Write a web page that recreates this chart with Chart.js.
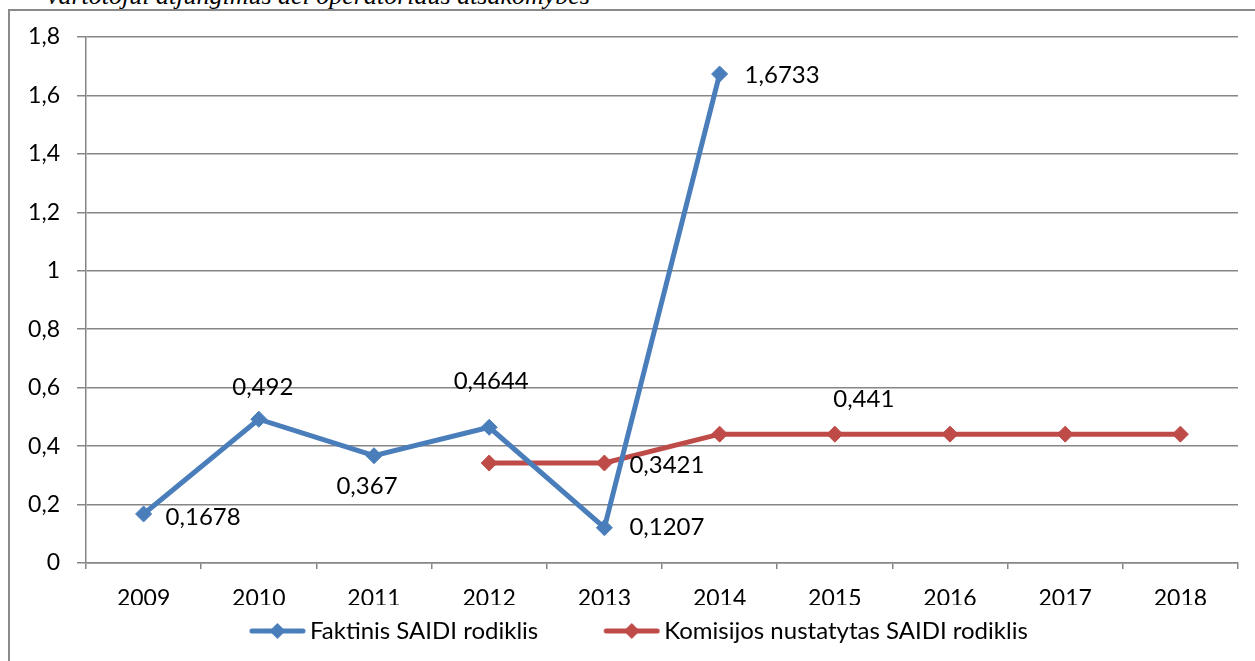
<!DOCTYPE html>
<html>
<head>
<meta charset="utf-8">
<script src="https://cdn.jsdelivr.net/npm/chart.js@4/dist/chart.umd.min.js"></script>
<style>
  html, body { margin: 0; padding: 0; background: #fff; overflow: hidden; }
  #wrap { position: relative; width: 1255px; height: 661px; overflow: hidden; }
  #caption {
    position: absolute; right: 665px; top: -19px; white-space: nowrap;
    font-family: "Liberation Serif", serif; font-style: italic; font-size: 26px; color: #000;
  }
  #frame {
    position: absolute; left: 8px; top: 9px; width: 1300px; height: 700px;
    border-left: 2px solid #8a8a8a; border-top: 2px solid #8a8a8a;
  }
  canvas { position: absolute; left: 0; top: 0; }
</style>
</head>
<body>
<div id="wrap">
  <div id="caption">vartotojui atjungimus dėl operatoriaus atsakomybės</div>
  <div id="frame"></div>
  <canvas id="myChart" width="1255" height="661"></canvas>
</div>
<script>
const years = ['2009', '2010', '2011', '2012', '2013', '2014', '2015', '2016', '2017', '2018'];
const faktinis = [0.1678, 0.492, 0.367, 0.4644, 0.1207, 1.6733, null, null, null, null];
const komisijos = [null, null, null, 0.3421, 0.3421, 0.441, 0.441, 0.441, 0.441, 0.441];
const yTickLabels = ['0', '0,2', '0,4', '0,6', '0,8', '1', '1,2', '1,4', '1,6', '1,8'];
const seriesNames = ['Faktinis SAIDI rodiklis', 'Komisijos nustatytas SAIDI rodiklis'];

const BLUE = '#4A7EBB';
const RED = '#BE4B48';
const FONT = 'Lato, "Open Sans", sans-serif';

// which points carry a value label, and where the text sits relative to the point
const labelSpots = [
    { ds: 0, i: 0, dx: 22, dy: 3, align: 'left' },
    { ds: 0, i: 1, dx: 4, dy: -32, align: 'center' },
    { ds: 0, i: 2, dx: -7, dy: 31, align: 'center' },
    { ds: 0, i: 3, dx: 2, dy: -46, align: 'center' },
    { ds: 0, i: 4, dx: 25, dy: 0, align: 'left' },
    { ds: 0, i: 5, dx: 25, dy: 1, align: 'left' },
    { ds: 1, i: 4, dx: 25, dy: 2, align: 'left' },
    { ds: 1, i: 6, dx: 29, dy: -35, align: 'center' },
];

// legend swatch: line with a diamond, shifted right so it hugs the text
function swatch(color) {
    const c = document.createElement('canvas');
    c.width = 57 + 16;
    c.height = 18;
    const g = c.getContext('2d');
    g.strokeStyle = color;
    g.lineWidth = 5;
    g.lineCap = 'round';
    g.beginPath();
    g.moveTo(16 + 3, 9);
    g.lineTo(16 + 54, 9);
    g.stroke();
    g.fillStyle = color;
    g.beginPath();
    const cx = 16 + 28.5;
    g.moveTo(cx, 1); g.lineTo(cx + 8, 9); g.lineTo(cx, 17); g.lineTo(cx - 8, 9);
    g.closePath();
    g.fill();
    return c;
}

const valueLabels = {
    id: 'valueLabels',
    afterDatasetsDraw(chart) {
        const ctx = chart.ctx;
        ctx.save();
        ctx.font = '24px ' + FONT;
        ctx.fillStyle = '#000';
        ctx.textBaseline = 'middle';
        labelSpots.forEach(s => {
            const pt = chart.getDatasetMeta(s.ds).data[s.i];
            const v = chart.data.datasets[s.ds].data[s.i];
            ctx.textAlign = s.align;
            ctx.fillText(String(v).replace('.', ','), pt.x + s.dx, pt.y + s.dy);
        });
        ctx.restore();
    }
};

const ctx = document.getElementById('myChart').getContext('2d');
new Chart(ctx, {
    type: 'line',
    data: {
        labels: years,
        datasets: [
            {
                label: seriesNames[0],
                data: faktinis,
                borderColor: BLUE,
                backgroundColor: BLUE,
                borderWidth: 5,
                pointStyle: 'rectRot',
                pointRadius: 8,
                pointBorderWidth: 1,
                tension: 0,
                spanGaps: false,
            },
            {
                label: seriesNames[1],
                data: komisijos,
                borderColor: RED,
                backgroundColor: RED,
                borderWidth: 5,
                pointStyle: 'rectRot',
                pointRadius: 8,
                pointBorderWidth: 1,
                tension: 0,
                spanGaps: false,
            },
        ],
    },
    options: {
        responsive: false,
        animation: false,
        layout: { padding: { left: 0, top: 37, right: 17, bottom: 8 } },
        plugins: {
            tooltip: { enabled: false },
            legend: {
                position: 'bottom',
                fullSize: false,
                labels: {
                    usePointStyle: true,
                    pointStyleWidth: 57,
                    padding: 14,
                    color: '#000',
                    font: { family: FONT, size: 24 },
                    generateLabels(chart) {
                        // trailing blanks widen the gap between entries and nudge the row left
                        return chart.data.datasets.map((d, i) => ({
                            text: d.label + (i === 0 ? '       ' : '         '),
                            pointStyle: swatch(d.borderColor),
                            fillStyle: d.borderColor,
                            strokeStyle: d.borderColor,
                            lineWidth: 0,
                            datasetIndex: i,
                            hidden: false,
                        }));
                    },
                },
            },
        },
        scales: {
            x: {
                type: 'category',
                offset: true,
                grid: {
                    offset: true,
                    drawOnChartArea: false,
                    drawTicks: true,
                    tickLength: 6,
                    color: '#868686',
                    lineWidth: 1.5,
                },
                border: { color: '#868686', width: 1.5 },
                ticks: {
                    color: '#000',
                    padding: 16,
                    maxRotation: 0,
                    font: { family: FONT, size: 23 },
                },
                afterFit(scale) { scale.height = 42; },
            },
            y: {
                min: 0,
                max: 1.8,
                grid: {
                    color: '#868686',
                    lineWidth: 1.5,
                    tickLength: 9,
                },
                border: { color: '#868686', width: 1.5 },
                ticks: {
                    stepSize: 0.2,
                    color: '#000',
                    padding: 17,
                    font: { family: FONT, size: 23 },
                    callback: (v, i) => yTickLabels[i],
                },
                afterFit(scale) { scale.width = 86; },
            },
        },
    },
    plugins: [valueLabels],
});
</script>
</body>
</html>
